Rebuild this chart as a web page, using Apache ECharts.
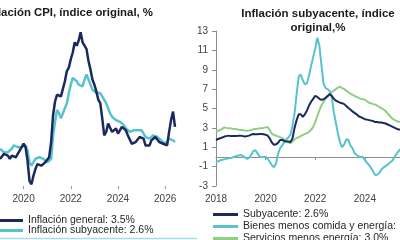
<!DOCTYPE html>
<html>
<head>
<meta charset="utf-8">
<script src="https://cdn.jsdelivr.net/npm/echarts@6/dist/echarts.min.js"></script>
<style>
  html, body { margin: 0; padding: 0; background: #fff; }
  #chart { width: 400px; height: 240px; }
</style>
</head>
<body>
<div id="chart"></div>
<script>
// left panel: Jan 2019 - Jun 2026, right panel: Jan 2018 - Jun 2025 (monthly, y/y %)
const monthRange = (y0, y1, lastMonth) => {
  const out = []
  for (let y = y0; y <= y1; y++) {
    const end = y === y1 ? lastMonth : 12
    for (let m = 1; m <= end; m++) out.push(y + '-' + String(m).padStart(2, '0'))
  }
  return out
}
const leftMonths = monthRange(2019, 2026, 6)
const rightMonths = monthRange(2018, 2025, 6)

const cpiGeneral = [
  1.6, 1.5, 1.9, 2.0, 1.8, 1.6, 1.8, 1.7, 1.7, 1.8, 2.1, 2.3,
  2.5, 2.3, 1.5, 0.3, 0.1, 0.6, 1.0, 1.3, 1.4, 1.2, 1.2, 1.4,
  1.4, 1.7, 2.6, 4.2, 5.0, 5.4, 5.4, 5.3, 5.4, 6.2, 6.8, 7.0,
  7.5, 7.9, 8.5, 8.3, 8.6, 9.1, 8.5, 8.3, 8.1, 7.4, 6.9, 6.3,
  6.0, 5.6, 5.1, 4.9, 4.0, 3.0, 3.2, 3.7, 3.7, 3.2, 3.1, 3.4,
  3.1, 3.2, 3.5, 3.4, 3.3, 3.0, 2.9, 2.5, 2.4, 2.6, 2.7, 2.9,
  3.0, 2.8, 2.4, 2.3, 2.4, 2.7, 2.7, 2.9, 2.8, 2.6, 2.6, 2.5,
  2.5, 2.4, 3.2, 3.9, 4.4, 3.5
]
const cpiCore = [
  2.2, 2.1, 2.0, 2.1, 2.0, 2.1, 2.2, 2.4, 2.4, 2.3, 2.3, 2.3,
  2.3, 2.4, 2.1, 1.4, 1.2, 1.2, 1.6, 1.7, 1.7, 1.6, 1.6, 1.6,
  1.4, 1.3, 1.6, 3.0, 3.8, 4.5, 4.3, 4.0, 4.0, 4.6, 4.9, 5.5,
  6.0, 6.4, 6.5, 6.2, 6.0, 5.9, 5.9, 6.3, 6.6, 6.3, 6.0, 5.7,
  5.6, 5.5, 5.6, 5.5, 5.4, 5.1, 4.9, 4.6, 4.3, 4.1, 4.0, 3.9,
  3.9, 3.8, 3.8, 3.6, 3.4, 3.3, 3.2, 3.2, 3.3, 3.3, 3.3, 3.2,
  3.3, 3.1, 2.9, 2.8, 2.8, 2.9, 3.0, 3.0, 2.9, 2.8, 2.7, 2.6,
  2.5, 2.5, 2.8, 2.9, 2.7, 2.6
]

const coreIdx = [
  1.75, 1.85, 1.93, 2.0, 2.1, 2.15, 2.2, 2.15, 2.15, 2.17, 2.15, 2.2,
  2.2, 2.15, 2.1, 2.15, 2.2, 2.3, 2.37, 2.35, 2.35, 2.37, 2.37, 2.35,
  2.3, 2.2, 1.9, 1.5, 1.25, 1.3, 1.45, 1.75, 1.75, 1.65, 1.6, 1.6,
  1.55, 1.9, 3.0, 3.8, 4.4, 4.4, 4.15, 4.4, 4.8, 5.3, 5.7, 6.0,
  6.3, 6.2, 6.0, 5.9, 5.95, 6.1, 6.3, 6.5, 6.3, 6.0, 5.8, 5.7,
  5.6, 5.55, 5.45, 5.25, 5.05, 4.9, 4.7, 4.55, 4.4, 4.2, 4.1, 4.0,
  3.9, 3.85, 3.8, 3.75, 3.7, 3.6, 3.6, 3.55, 3.55, 3.5, 3.45, 3.35,
  3.25, 3.15, 3.05, 2.95, 2.85, 2.8
]
const goodsIdx = [
  -0.55, -0.45, -0.35, -0.3, -0.25, -0.2, -0.15, -0.1, -0.05, 0.03, 0.1, 0.15,
  0.2, 0.1, -0.05, -0.2, -0.1, 0.2, 0.6, 0.7, 0.4, 0.05, 0.0, 0.0,
  0.03, -0.2, -0.5, -0.85, -1.07, -0.7, 0.3, 0.9, 1.2, 1.5, 1.8, 2.0,
  2.3, 3.2, 4.5, 6.5, 8.3, 8.5, 7.9, 7.5, 7.6, 8.4, 9.4, 10.3,
  11.2, 12.3, 11.5, 9.5, 7.6, 7.1, 7.0, 6.8, 6.2, 4.6, 3.5, 2.4,
  1.5, 1.0, 1.3, 1.8, 1.8, 1.2, 0.9, 0.4, 0.2, 0.05, 0.0, 0.0,
  -0.3, -0.6, -0.8, -1.15, -1.5, -1.86, -1.85, -1.65, -1.3, -1.1, -0.95, -0.8,
  -0.6, -0.45, -0.15, 0.2, 0.5, 0.8
]
const servicesIdx = [
  2.6, 2.7, 2.78, 2.9, 3.05, 3.0, 2.95, 2.95, 2.9, 2.88, 2.85, 2.8,
  2.78, 2.75, 2.72, 2.71, 2.72, 2.78, 2.85, 2.88, 2.9, 2.95, 2.95, 3.0,
  3.05, 3.1, 2.75, 2.4, 2.27, 2.2, 2.12, 2.05, 1.95, 1.8, 1.62, 1.5,
  1.4, 1.6, 1.8, 1.95, 2.05, 2.15, 2.27, 2.35, 2.45, 2.6, 2.8, 3.1,
  3.6, 4.2, 4.8, 5.3, 5.7, 6.0, 6.25, 6.45, 6.7, 6.85, 7.0, 7.15,
  7.25, 7.1, 7.0, 6.85, 6.7, 6.55, 6.4, 6.3, 6.2, 6.1, 6.0, 5.95,
  5.9, 5.75, 5.6, 5.55, 5.45, 5.4, 5.3, 5.15, 5.05, 4.9, 4.75, 4.5,
  4.25, 4.0, 3.85, 3.75, 3.65, 3.6
]

const leftNames = ['Inflación general: 3.5%', 'Inflación subyacente: 2.6%']
const rightNames = ['Subyacente: 2.6%', 'Bienes menos comida y energía:', 'Servicios menos energía: 3.0%']

const NAVY = '#1b2a5e'
const TEAL = '#58c3cd'
const GREEN = '#8fcf83'
const FONT = 'Liberation Sans'

// only label / tick January of even years
const evenJan = (idx, value) => value.endsWith('-01') && Number(value.slice(0, 4)) % 2 === 0

const chart = echarts.init(document.getElementById('chart'))
chart.setOption({
  animation: false,
  textStyle: { fontFamily: FONT },
  grid: [
    { left: -3, top: 17, width: 178, height: 169 },
    { left: 216, top: 31, right: 0, height: 155 }
  ],
  legend: [
    {
      data: leftNames,
      orient: 'vertical',
      left: -6,
      top: 210,
      height: 80,
      icon: 'rect',
      itemWidth: 24,
      itemHeight: 3,
      itemGap: -1,
      textStyle: { fontSize: 10.5, color: '#262626' }
    },
    {
      data: rightNames,
      orient: 'vertical',
      left: 208,
      top: 204,
      height: 80,
      icon: 'rect',
      itemWidth: 25,
      itemHeight: 3,
      itemGap: 1,
      textStyle: { fontSize: 10.5, color: '#262626' }
    }
  ],
  xAxis: [
    {
      gridIndex: 0,
      type: 'category',
      data: leftMonths,
      boundaryGap: false,
      axisLine: { show: true, lineStyle: { color: '#9a9a9a', opacity: 0 } },
      axisTick: { show: true, interval: evenJan, length: 3, lineStyle: { color: '#9a9a9a', opacity: 1 } },
      axisLabel: { interval: evenJan, formatter: v => v.slice(0, 4), fontSize: 10, color: '#404040', margin: 8 }
    },
    {
      gridIndex: 1,
      type: 'category',
      data: rightMonths,
      position: 'bottom',
      boundaryGap: false,
      axisLine: { show: true, onZero: true, lineStyle: { color: '#8c8c8c', width: 1 } },
      axisTick: { show: true, interval: evenJan, length: 3, lineStyle: { color: '#8c8c8c' } },
      axisLabel: { show: false }
    },
    {
      gridIndex: 1,
      type: 'category',
      data: rightMonths,
      position: 'bottom',
      boundaryGap: false,
      axisLine: { show: false, onZero: false },
      axisTick: { show: false },
      axisLabel: { interval: evenJan, formatter: v => v.slice(0, 4), fontSize: 10, color: '#404040', margin: 8 }
    }
  ],
  yAxis: [
    { gridIndex: 0, type: 'value', min: 0, max: 10, show: false },
    {
      gridIndex: 1,
      type: 'value',
      min: -3,
      max: 13,
      interval: 2,
      axisLine: { show: true, lineStyle: { color: '#8c8c8c' } },
      axisTick: { show: true, length: 4, lineStyle: { color: '#8c8c8c' } },
      axisLabel: { fontSize: 10, color: '#404040', margin: 8 },
      splitLine: { show: false }
    }
  ],
  series: [
    {
      name: leftNames[0], type: 'line', xAxisIndex: 0, yAxisIndex: 0,
      data: cpiGeneral, showSymbol: false, z: 3,
      lineStyle: { color: NAVY, width: 2.5 }, itemStyle: { color: NAVY }
    },
    {
      name: leftNames[1], type: 'line', xAxisIndex: 0, yAxisIndex: 0,
      data: cpiCore, showSymbol: false, z: 2,
      lineStyle: { color: TEAL, width: 2.5 }, itemStyle: { color: TEAL }
    },
    {
      name: rightNames[0], type: 'line', xAxisIndex: 1, yAxisIndex: 1,
      data: coreIdx, showSymbol: false, z: 3,
      lineStyle: { color: NAVY, width: 2 }, itemStyle: { color: NAVY }
    },
    {
      name: rightNames[1], type: 'line', xAxisIndex: 1, yAxisIndex: 1,
      data: goodsIdx, showSymbol: false, z: 2,
      lineStyle: { color: TEAL, width: 2 }, itemStyle: { color: TEAL }
    },
    {
      name: rightNames[2], type: 'line', xAxisIndex: 1, yAxisIndex: 1,
      data: servicesIdx, showSymbol: false, z: 2,
      lineStyle: { color: GREEN, width: 2 }, itemStyle: { color: GREEN }
    }
  ],
  graphic: [
    {
      type: 'text', x: 153, y: 13,
      style: { text: 'Inflación CPI, índice original, %', align: 'right', verticalAlign: 'middle',
        font: 'bold 11.4px "Liberation Sans"', fill: '#1a1a1a' }
    },
    {
      type: 'text', x: 318, y: 14,
      style: { text: 'Inflación subyacente, índice', align: 'center', verticalAlign: 'middle',
        font: 'bold 11.5px "Liberation Sans"', fill: '#1a1a1a' }
    },
    {
      type: 'text', x: 318, y: 28,
      style: { text: 'original,%', align: 'center', verticalAlign: 'middle',
        font: 'bold 11.5px "Liberation Sans"', fill: '#1a1a1a' }
    },
    {
      type: 'line', shape: { x1: 0, y1: 238.5, x2: 197, y2: 238.5 },
      style: { stroke: '#a6dde2', lineWidth: 1.5 }
    }
  ]
})
</script>
</body>
</html>
